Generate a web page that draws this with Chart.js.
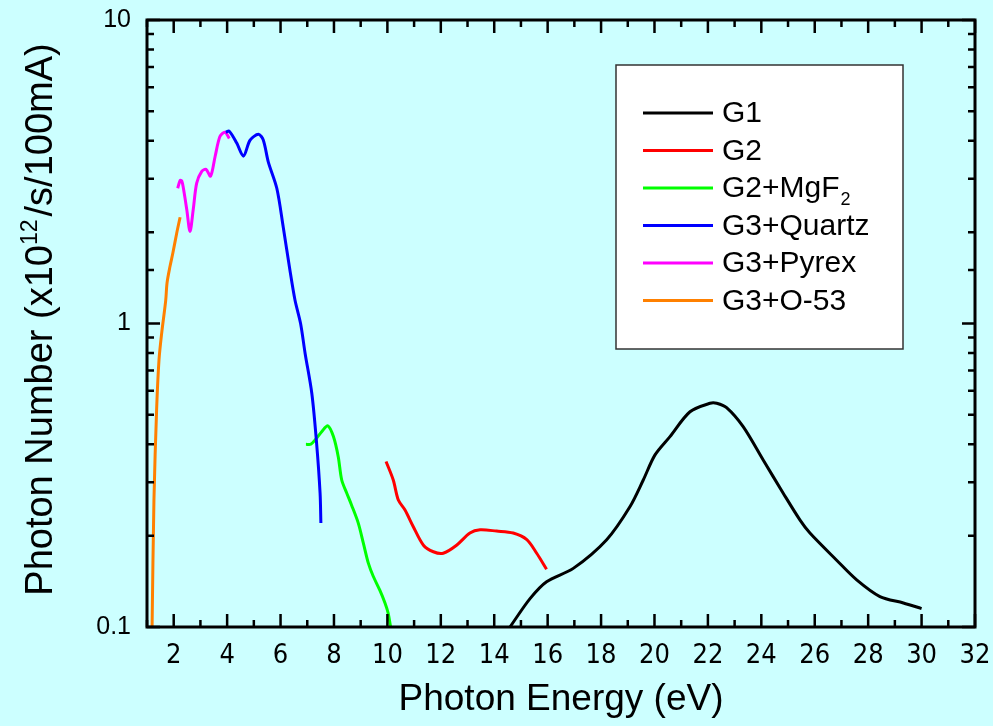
<!DOCTYPE html>
<html><head><meta charset="utf-8">
<script src="https://cdn.jsdelivr.net/npm/chart.js@4.4.1/dist/chart.umd.min.js"></script>
<style>html,body{margin:0;padding:0;background:#ccffff;}canvas{display:block;}</style>
</head><body>
<canvas id="c" width="993" height="726"></canvas>
<script>
// ---- data ----
const seriesNames = ['G1', 'G2', 'G2+MgF', 'G3+Quartz', 'G3+Pyrex', 'G3+O-53'];
const seriesSubs  = ['', '', '2', '', '', ''];
const seriesColors = ['#000000', '#ff0000', '#00ff00', '#0000ff', '#ff00ff', '#ff8000'];

const energyG1 = [14.59, 15.34, 15.96, 16.96, 18.21, 19.08, 19.58, 20.02, 20.58, 21.33, 22.08, 22.33, 22.70, 23.32, 24.07, 24.82, 25.45, 25.82, 26.82, 27.57, 28.44, 29.32, 30.0];
const photonG1 = [0.100, 0.124, 0.141, 0.156, 0.194, 0.249, 0.305, 0.369, 0.424, 0.512, 0.546, 0.546, 0.528, 0.457, 0.355, 0.276, 0.225, 0.204, 0.166, 0.143, 0.126, 0.120, 0.115];

const energyG2 = [9.95, 10.22, 10.41, 10.66, 10.97, 11.35, 11.72, 12.09, 12.59, 13.09, 13.47, 14.09, 14.71, 15.22, 15.59, 15.96];
const photonG2 = [0.351, 0.305, 0.262, 0.243, 0.214, 0.186, 0.177, 0.175, 0.186, 0.204, 0.209, 0.207, 0.204, 0.194, 0.175, 0.155];

const energyMgF2 = [6.95, 7.13, 7.35, 7.54, 7.77, 7.98, 8.16, 8.29, 8.48, 8.66, 8.91, 9.10, 9.29, 9.47, 9.72, 9.91, 10.03, 10.12];
const photonMgF2 = [0.400, 0.400, 0.419, 0.440, 0.460, 0.424, 0.364, 0.305, 0.276, 0.252, 0.220, 0.189, 0.162, 0.147, 0.132, 0.120, 0.111, 0.100];

const energyQuartz = [3.95, 4.08, 4.36, 4.61, 4.86, 5.17, 5.35, 5.54, 5.86, 6.10, 6.35, 6.54, 6.75, 6.92, 7.17, 7.35, 7.48, 7.51];
const photonQuartz = [4.27, 4.30, 3.93, 3.56, 4.02, 4.20, 4.03, 3.41, 2.79, 2.08, 1.50, 1.195, 1.00, 0.797, 0.589, 0.403, 0.276, 0.220];

const energyPyrex = [2.15, 2.24, 2.30, 2.36, 2.49, 2.61, 2.73, 2.86, 3.05, 3.21, 3.38, 3.55, 3.73, 3.92, 4.08];
const photonPyrex = [2.79, 2.96, 2.95, 2.80, 2.37, 2.01, 2.37, 2.90, 3.17, 3.22, 3.06, 3.55, 4.13, 4.27, 4.07];

const energyO53 = [1.19, 1.26, 1.36, 1.45, 1.55, 1.70, 1.75, 1.86, 1.97, 2.11, 2.24];
const photonO53 = [0.10, 0.262, 0.52, 0.76, 0.93, 1.19, 1.36, 1.54, 1.71, 1.98, 2.24];

const xTickLabels = ['2','4','6','8','10','12','14','16','18','20','22','24','26','28','30','32'];
const yTickLabels = ['0.1', '1', '10'];
const xAxisTitle = 'Photon Energy (eV)';
const yAxisTitleParts = ['Photon Number (x10', '12', '/s/100mA)'];

// ---- build ----
const energies = [energyG1, energyG2, energyMgF2, energyQuartz, energyPyrex, energyO53];
const photons  = [photonG1, photonG2, photonMgF2, photonQuartz, photonPyrex, photonO53];
const datasets = seriesNames.map((n, i) => ({
  label: n + seriesSubs[i],
  data: energies[i].map((e, k) => ({x: e, y: photons[i][k]})),
  borderColor: seriesColors[i],
  backgroundColor: seriesColors[i],
  borderWidth: 3,
  pointRadius: 0,
  fill: false,
  tension: 0.3,
  order: i === 3 ? 0 : 1
}));

const isPow10 = v => Math.abs(Math.log10(v) - Math.round(Math.log10(v))) < 1e-9;

const framePlugin = {
  id: 'frame',
  afterDatasetsDraw(chart) {
    const ctx = chart.ctx, a = chart.chartArea;
    const xs = chart.scales.x, ys = chart.scales.y;
    ctx.save();
    ctx.strokeStyle = '#000';
    ctx.lineCap = 'butt';
    ctx.lineWidth = 2.5;
    xs.ticks.forEach(t => {
      const px = xs.getPixelForValue(t.value);
      const len = (Math.round(t.value) % 2 === 0) ? 13 : 7;
      ctx.beginPath();
      ctx.moveTo(px, a.bottom); ctx.lineTo(px, a.bottom - len);
      ctx.moveTo(px, a.top); ctx.lineTo(px, a.top + len);
      ctx.stroke();
    });
    ys.ticks.forEach(t => {
      const py = ys.getPixelForValue(t.value);
      const len = isPow10(t.value) ? 13 : 7;
      ctx.beginPath();
      ctx.moveTo(a.left, py); ctx.lineTo(a.left + len, py);
      ctx.moveTo(a.right, py); ctx.lineTo(a.right - len, py);
      ctx.stroke();
    });
    ctx.lineWidth = 3;
    ctx.strokeRect(a.left, a.top, a.right - a.left, a.bottom - a.top);

    // axis titles
    ctx.fillStyle = '#000';
    ctx.font = '37px "Liberation Sans", Arial, sans-serif';
    ctx.textAlign = 'center';
    ctx.textBaseline = 'alphabetic';
    ctx.fillText(xAxisTitle, (a.left + a.right) / 2, 710);

    ctx.save();
    ctx.translate(52, (a.top + a.bottom) / 2 - 4);
    ctx.rotate(-Math.PI / 2);
    ctx.textAlign = 'left';
    const bigF = '38px "Liberation Sans", Arial, sans-serif';
    const smallF = '23px "Liberation Sans", Arial, sans-serif';
    ctx.font = bigF; const w1 = ctx.measureText(yAxisTitleParts[0]).width;
    const w3 = ctx.measureText(yAxisTitleParts[2]).width;
    ctx.font = smallF; const w2 = ctx.measureText(yAxisTitleParts[1]).width;
    const gap = 3;
    let x0 = -(w1 + w2 + w3 + gap) / 2;
    ctx.font = bigF; ctx.fillText(yAxisTitleParts[0], x0, 0);
    ctx.font = smallF; ctx.fillText(yAxisTitleParts[1], x0 + w1, -15);
    ctx.font = bigF; ctx.fillText(yAxisTitleParts[2], x0 + w1 + w2 + gap, 0);
    ctx.restore();

    // legend
    ctx.fillStyle = '#ffffff';
    ctx.fillRect(616, 65, 287, 284);
    ctx.strokeStyle = '#333';
    ctx.lineWidth = 1.5;
    ctx.strokeRect(616, 65, 287, 284);
    ctx.textAlign = 'left';
    ctx.textBaseline = 'middle';
    seriesNames.forEach((n, i) => {
      const y = 113 + i * 37.5;
      ctx.strokeStyle = seriesColors[i];
      ctx.lineWidth = 3;
      ctx.beginPath(); ctx.moveTo(643, y); ctx.lineTo(713, y); ctx.stroke();
      ctx.fillStyle = '#000';
      ctx.font = '30px "Liberation Sans", Arial, sans-serif';
      ctx.fillText(n, 722, y + 1);
      if (seriesSubs[i]) {
        const w = ctx.measureText(n).width;
        ctx.font = '18px "Liberation Sans", Arial, sans-serif';
        ctx.fillText(seriesSubs[i], 722 + w + 1, y + 12);
      }
    });
    ctx.restore();
  }
};

new Chart(document.getElementById('c'), {
  type: 'line',
  data: { datasets },
  options: {
    responsive: false,
    devicePixelRatio: 1,
    animation: false,
    layout: { padding: { top: 20, right: 18, left: 0, bottom: 0 } },
    plugins: { legend: { display: false }, tooltip: { enabled: false } },
    scales: {
      x: {
        type: 'linear', min: 1, max: 32,
        grid: { display: false, drawTicks: false },
        border: { display: false },
        afterFit: s => { s.height = 99; s.paddingLeft = 0; s.paddingRight = 0; },
        ticks: {
          stepSize: 1, autoSkip: false, maxRotation: 0, padding: 13,
          color: '#000',
          font: { family: '"Liberation Sans Narrow", "Arial Narrow", "DejaVu Sans Condensed", sans-serif', size: 27 },
          callback: v => xTickLabels.includes(String(v)) ? String(v) : ''
        }
      },
      y: {
        type: 'logarithmic', min: 0.1, max: 10,
        grid: { display: false, drawTicks: false },
        border: { display: false },
        afterFit: s => { s.width = 147; s.paddingTop = 0; s.paddingBottom = 0; },
        ticks: {
          autoSkip: false, padding: 16, color: '#000',
          font: { family: '"Liberation Sans", Arial, sans-serif', size: 25 },
          callback: v => { const s = isPow10(v) ? String(+v.toPrecision(3)) : ''; return yTickLabels.includes(s) ? s : ''; }
        }
      }
    }
  },
  plugins: [framePlugin]
});
</script>
</body></html>
